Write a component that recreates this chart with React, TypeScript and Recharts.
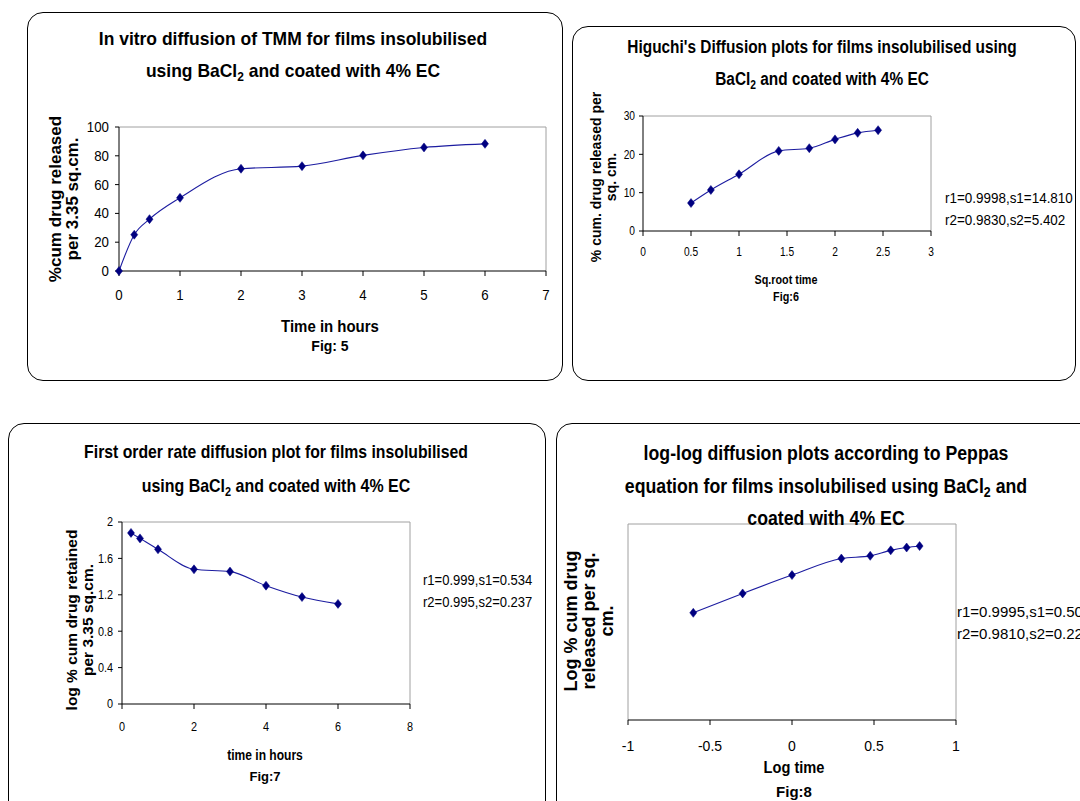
import React from 'react';
import { LineChart, Line, XAxis, YAxis, ReferenceLine } from 'recharts';

// Fig 5: in vitro diffusion
const fig5Hours = [0, 0.25, 0.5, 1, 2, 3, 4, 5, 6];
const fig5Released = [0, 25.2, 36, 50.8, 71, 72.8, 80.3, 85.8, 88.3];
const fig5XTicks = [0, 1, 2, 3, 4, 5, 6, 7];
const fig5YTicks = [0, 20, 40, 60, 80, 100];

// Fig 6: Higuchi
const fig6SqrtTime = [0.5, 0.707, 1, 1.414, 1.732, 2, 2.236, 2.449];
const fig6Released = [7.3, 10.7, 14.8, 20.9, 21.6, 23.9, 25.6, 26.3];
const fig6XTicks = [0, 0.5, 1, 1.5, 2, 2.5, 3];
const fig6YTicks = [0, 10, 20, 30];

// Fig 7: first order
const fig7Hours = [0.25, 0.5, 1, 2, 3, 4, 5, 6];
const fig7LogRetained = [1.88, 1.82, 1.7, 1.48, 1.455, 1.3, 1.175, 1.1];
const fig7XTicks = [0, 2, 4, 6, 8];
const fig7YTicks = [0, 0.4, 0.8, 1.2, 1.6, 2];

// Fig 8: Peppas log-log
const fig8LogTime = [-0.602, -0.301, 0, 0.301, 0.477, 0.602, 0.699, 0.778];
const fig8LogReleased = [0.875, 1.033, 1.183, 1.318, 1.34, 1.385, 1.408, 1.42];
const fig8XTicks = [-1, -0.5, 0, 0.5, 1];

const FONT = '"Liberation Sans", Arial, sans-serif';
const NAVY = '#000080';
const GRAY = '#a0a0a0';

function Diamond(props: any) {
  const { cx, cy, index } = props;
  if (cx == null || cy == null) return null;
  return (
    <polygon
      key={index}
      points={`${cx},${cy - 4.5} ${cx + 3.5},${cy} ${cx},${cy + 4.5} ${cx - 3.5},${cy}`}
      fill={NAVY}
      stroke={NAVY}
      strokeWidth={0.5}
    />
  );
}

// tick text, squeezed horizontally to mimic the narrow font of the original
function Tick(props: any) {
  const { x, y, payload, textAnchor, axis, size, sx } = props;
  const dy = axis === 'x' ? size * 0.71 : size * 0.355;
  return (
    <text
      transform={`translate(${x},${y}) scale(${sx},1)`}
      textAnchor={textAnchor}
      dy={dy}
      fontFamily={FONT}
      fontSize={size}
      fill="#000"
    >
      {payload.value}
    </text>
  );
}

interface PlotProps {
  xs: number[];
  ys: number[];
  xTicks: number[];
  yTicks?: number[];
  yDomain: [number, number];
  left: number;
  top: number;
  width: number;
  height: number;
  tickSize: number;
  tickSx: number;
  xTickMargin: number;
  yTickMargin: number;
  leftAxisGray?: boolean;
}

function Plot(p: PlotProps) {
  const data = p.xs.map((x, i) => ({ x, y: p.ys[i] }));
  const yw = 70;
  const xMin = p.xTicks[0];
  const xMax = p.xTicks[p.xTicks.length - 1];
  return (
    <div style={{ position: 'absolute', left: p.left - yw, top: p.top - 10 }}>
      <LineChart
        width={p.width + yw + 10}
        height={p.height + 60}
        data={data}
        margin={{ top: 10, right: 10, bottom: 0, left: 0 }}
      >
        <XAxis
          dataKey="x"
          type="number"
          domain={[xMin, xMax]}
          ticks={p.xTicks}
          interval={0}
          height={50}
          tickSize={5}
          tickMargin={p.xTickMargin}
          tick={<Tick axis="x" size={p.tickSize} sx={p.tickSx} />}
          axisLine={{ stroke: '#000' }}
          tickLine={{ stroke: '#000' }}
        />
        <YAxis
          domain={p.yDomain}
          ticks={p.yTicks}
          interval={0}
          width={yw}
          tickSize={p.yTicks ? 4 : 0}
          tickMargin={p.yTickMargin}
          tick={p.yTicks ? <Tick axis="y" size={p.tickSize} sx={p.tickSx} /> : false}
          axisLine={p.leftAxisGray ? false : { stroke: '#000' }}
          tickLine={{ stroke: '#000' }}
        />
        <ReferenceLine y={p.yDomain[1]} stroke={GRAY} />
        <ReferenceLine x={xMax} stroke={GRAY} />
        {p.leftAxisGray && <ReferenceLine x={xMin} stroke={GRAY} />}
        <Line
          type="monotone"
          dataKey="y"
          stroke="#1c1ca0"
          strokeWidth={1.1}
          dot={<Diamond />}
          activeDot={false}
          isAnimationActive={false}
        />
      </LineChart>
    </div>
  );
}

// centred bold text placed by its baseline
function Txt({ cx, base, size, sx = 1, bold = true, children }: any) {
  return (
    <div
      style={{
        position: 'absolute',
        left: cx - 300,
        top: base - size * 0.9465,
        width: 600,
        textAlign: 'center',
        fontFamily: FONT,
        fontSize: size,
        fontWeight: bold ? 'bold' : 'normal',
        lineHeight: `${size * 1.2}px`,
        whiteSpace: 'nowrap',
        transform: `scaleX(${sx})`,
      }}
    >
      {children}
    </div>
  );
}

function Note({ x, y, size, sx, lines }: any) {
  return (
    <div
      style={{
        position: 'absolute',
        left: x,
        top: y,
        fontFamily: FONT,
        fontSize: size,
        lineHeight: '22px',
        whiteSpace: 'nowrap',
        transform: `scaleX(${sx})`,
        transformOrigin: 'left top',
      }}
    >
      {lines.map((l: string) => (
        <div key={l}>{l}</div>
      ))}
    </div>
  );
}

function VLabel({ cx, cy, size, gap, lines }: any) {
  return (
    <div
      style={{
        position: 'absolute',
        left: cx,
        top: cy,
        transform: 'translate(-50%, -50%) rotate(-90deg)',
        fontFamily: FONT,
        fontWeight: 'bold',
        fontSize: size,
        lineHeight: `${gap}px`,
        textAlign: 'center',
        whiteSpace: 'nowrap',
      }}
    >
      {lines.map((l: string) => (
        <div key={l}>{l}</div>
      ))}
    </div>
  );
}

const Sub = ({ s }: { s: number }) => (
  <span style={{ fontSize: s, position: 'relative', top: 4 }}>2</span>
);

function Panel({ left, top, width, height }: any) {
  return (
    <div
      style={{
        position: 'absolute',
        left,
        top,
        width,
        height,
        border: '1px solid #000',
        borderRadius: 16,
        boxSizing: 'border-box',
        background: '#fff',
      }}
    />
  );
}

export default function App() {
  return (
    <div
      style={{
        position: 'absolute',
        left: 0,
        top: 0,
        width: 1080,
        height: 801,
        overflow: 'hidden',
        background: '#fff',
      }}
    >
      <Panel left={27} top={12} width={536} height={369} />
      <Panel left={572} top={26} width={504} height={355} />
      <Panel left={8} top={423} width={538} height={400} />
      <Panel left={556} top={423} width={560} height={400} />

      {/* Fig 5 */}
      <Txt cx={293} base={46} size={19} sx={0.92}>In vitro diffusion of TMM for films insolubilised</Txt>
      <Txt cx={293} base={78} size={19} sx={0.92}>
        using BaCl<Sub s={13} /> and coated with 4% EC
      </Txt>
      <Plot
        xs={fig5Hours}
        ys={fig5Released}
        xTicks={fig5XTicks}
        yTicks={fig5YTicks}
        yDomain={[0, 100]}
        left={119}
        top={127}
        width={427}
        height={144}
        tickSize={14}
        tickSx={0.95}
        xTickMargin={14}
        yTickMargin={6}
      />
      <VLabel cx={64} cy={199} size={17} gap={17} lines={['%cum drug released', 'per 3.35 sq.cm.']} />
      <Txt cx={330} base={333} size={17} sx={0.88}>Time in hours</Txt>
      <Txt cx={330} base={351} size={14}>Fig: 5</Txt>

      {/* Fig 6 */}
      <Txt cx={822} base={54} size={18} sx={0.855}>Higuchi's Diffusion plots for films insolubilised using</Txt>
      <Txt cx={822} base={86} size={18} sx={0.855}>
        BaCl<Sub s={12} /> and coated with 4% EC
      </Txt>
      <Plot
        xs={fig6SqrtTime}
        ys={fig6Released}
        xTicks={fig6XTicks}
        yTicks={fig6YTicks}
        yDomain={[0, 30]}
        left={643}
        top={116}
        width={288}
        height={115}
        tickSize={12}
        tickSx={0.85}
        xTickMargin={11}
        yTickMargin={4}
      />
      <VLabel cx={604} cy={177} size={14} gap={15} lines={['% cum. drug released per', 'sq. cm.']} />
      <Note x={945} y={187} size={14} sx={0.96} lines={['r1=0.9998,s1=14.810', 'r2=0.9830,s2=5.402']} />
      <Txt cx={786} base={284} size={13} sx={0.83}>Sq.root time</Txt>
      <Txt cx={786} base={301} size={12} sx={0.9}>Fig:6</Txt>

      {/* Fig 7 */}
      <Txt cx={276} base={459} size={19} sx={0.83}>First order rate diffusion plot for films insolubilised</Txt>
      <Txt cx={276} base={493} size={19} sx={0.84}>
        using BaCl<Sub s={13} /> and coated with 4% EC
      </Txt>
      <Plot
        xs={fig7Hours}
        ys={fig7LogRetained}
        xTicks={fig7XTicks}
        yTicks={fig7YTicks}
        yDomain={[0, 2]}
        left={122}
        top={522}
        width={288}
        height={182}
        tickSize={12.5}
        tickSx={0.87}
        xTickMargin={13}
        yTickMargin={5}
      />
      <VLabel cx={80} cy={620} size={15.5} gap={16} lines={['log % cum drug retained', 'per 3.35 sq.cm.']} />
      <Note x={423} y={569} size={14} sx={0.93} lines={['r1=0.999,s1=0.534', 'r2=0.995,s2=0.237']} />
      <Txt cx={265} base={760} size={14} sx={0.86}>time in hours</Txt>
      <Txt cx={265} base={781} size={13}>Fig:7</Txt>

      {/* Fig 8 */}
      <Plot
        xs={fig8LogTime}
        ys={fig8LogReleased}
        xTicks={fig8XTicks}
        yDomain={[0, 1.6]}
        left={628}
        top={524}
        width={328}
        height={196}
        tickSize={14}
        tickSx={1}
        xTickMargin={16}
        yTickMargin={0}
        leftAxisGray
      />
      <Txt cx={826} base={460} size={20} sx={0.885}>log-log diffusion plots according to Peppas</Txt>
      <Txt cx={826} base={493} size={20} sx={0.885}>
        equation for films insolubilised using BaCl<Sub s={14} /> and
      </Txt>
      <Txt cx={826} base={525} size={20} sx={0.885}>coated with 4% EC</Txt>
      <VLabel cx={589} cy={621} size={18} gap={18} lines={['Log % cum drug', 'released per sq.', 'cm.']} />
      <Note x={957} y={601} size={15} sx={1} lines={['r1=0.9995,s1=0.50', 'r2=0.9810,s2=0.225']} />
      <Txt cx={794} base={774} size={17} sx={0.86}>Log time</Txt>
      <Txt cx={794} base={797} size={15}>Fig:8</Txt>
    </div>
  );
}
